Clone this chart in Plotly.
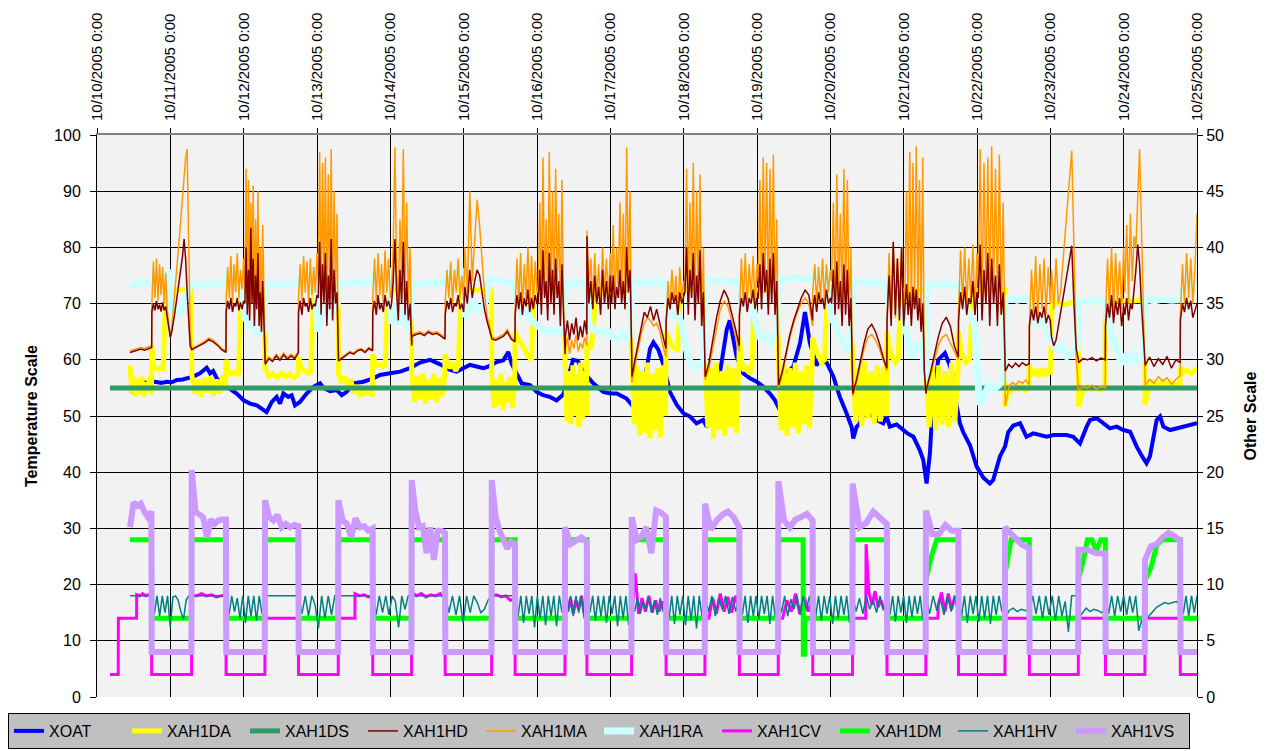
import numpy as np
import pandas as pd
import plotly.graph_objects as go

START = pd.Timestamp("2005-10-10 00:00")
END = pd.Timestamp("2005-10-25 00:00")

DAY_LABELS = ["10/10/2005 0:00", "10/11/2005 0:00", "10/12/2005 0:00", "10/13/2005 0:00",
              "10/14/2005 0:00", "10/15/2005 0:00", "10/16/2005 0:00", "10/17/2005 0:00",
              "10/18/2005 0:00", "10/19/2005 0:00", "10/20/2005 0:00", "10/21/2005 0:00",
              "10/22/2005 0:00", "10/23/2005 0:00", "10/24/2005 0:00", "10/25/2005 0:00"]

# ---- outdoor air temperature: (hour since 10/10 0:00, value) ----
XOAT = [(10.8, 54.5), (12.0, 54.2), (13.5, 55.6), (15.5, 56.0), (17.0, 55.8), (19.0, 56.1), (21.0, 55.9),
        (22.8, 56.1), (24.5, 56.0), (26.1, 56.4), (28.0, 56.5), (29.3, 56.7), (31.5, 57.0), (33.7, 57.6),
        (35.0, 58.3), (35.9, 58.6), (37.0, 57.6), (38.0, 58.0), (39.2, 56.7), (41.4, 55.4), (43.6, 54.8),
        (45.7, 54.0), (48.0, 52.8), (50.1, 52.2), (52.3, 51.9), (54.4, 51.0), (55.5, 50.7), (57.2, 52.5),
        (58.8, 53.4), (59.9, 52.2), (61.0, 54.0), (62.6, 53.4), (63.7, 53.7), (64.8, 51.9), (66.4, 52.5),
        (68.6, 54.0), (70.8, 55.2), (73.0, 55.8), (74.1, 55.0), (76.3, 54.4), (78.5, 54.6), (80.1, 53.7),
        (81.7, 54.3), (83.9, 55.8), (87.2, 56.1), (90.4, 56.7), (92.6, 57.3), (95.9, 57.6), (99.2, 57.9),
        (102.4, 58.5), (105.7, 59.5), (109.0, 60.0), (112.3, 59.2), (115.5, 58.2), (117.7, 57.9),
        (119.9, 58.5), (122.0, 59.1), (124.2, 58.8), (126.4, 58.5), (128.0, 58.8), (130.8, 59.6),
        (133.0, 59.9), (134.6, 61.4), (135.7, 59.3), (137.3, 57.6), (139.0, 55.8), (141.7, 55.5),
        (143.9, 54.3), (146.0, 53.7), (148.2, 53.4), (150.4, 52.8), (152.6, 53.8), (154.0, 56.5),
        (155.8, 60.0), (157.4, 59.8), (159.0, 58.0), (162.4, 55.8), (165.7, 54.3), (168.0, 54.0),
        (170.1, 54.0), (173.3, 53.1), (175.5, 51.7), (177.7, 53.5), (179.9, 58.5), (181.0, 62.0),
        (182.1, 63.1), (183.7, 61.8), (185.3, 59.3), (187.5, 54.3), (189.7, 52.0), (191.9, 50.5),
        (194.1, 49.9), (196.2, 48.7), (198.4, 49.3), (199.5, 48.1), (201.7, 51.0), (202.8, 54.0),
        (203.9, 58.2), (205.0, 62.4), (206.1, 65.4), (207.1, 67.0), (208.2, 63.8), (209.3, 60.6),
        (211.5, 57.6), (213.7, 56.7), (215.9, 56.1), (218.1, 55.2), (220.2, 54.0), (221.9, 52.8),
        (223.5, 51.0), (224.6, 52.5), (225.7, 57.6), (227.9, 58.8), (230.1, 63.0), (231.7, 68.5),
        (233.3, 63.0), (235.5, 59.0), (236.6, 60.0), (238.8, 59.5), (241.0, 57.0), (243.1, 53.4),
        (245.3, 50.5), (247.0, 48.0), (247.5, 46.0), (248.6, 48.1), (249.7, 48.7), (250.8, 51.0),
        (251.9, 51.6), (253.0, 50.5), (255.1, 49.3), (257.3, 48.7), (258.4, 49.9), (259.5, 48.1),
        (261.7, 48.5), (263.9, 47.5), (265.0, 47.0), (267.2, 46.3), (269.3, 43.9), (270.4, 42.2),
        (271.5, 38.0), (272.6, 43.4), (273.2, 49.3), (274.2, 55.0), (275.3, 60.0), (277.5, 61.2),
        (279.1, 59.0), (280.2, 57.0), (281.3, 52.0), (282.4, 48.7), (283.5, 47.1), (285.7, 44.8),
        (287.9, 41.0), (290.1, 39.0), (292.2, 38.0), (293.3, 38.6), (295.5, 42.8), (297.2, 44.6),
        (298.2, 47.1), (299.9, 48.3), (302.1, 48.7), (304.2, 46.3), (306.4, 46.9), (310.8, 46.3),
        (313.0, 46.6), (315.2, 46.6), (317.3, 46.6), (319.5, 46.3), (321.7, 45.1), (323.9, 48.1),
        (325.0, 49.3), (327.2, 49.6), (329.3, 48.7), (331.5, 47.8), (333.7, 48.1), (335.9, 47.5),
        (338.1, 47.2), (340.3, 44.5), (342.4, 42.5), (343.5, 41.6), (344.6, 42.8), (345.7, 45.7),
        (346.8, 49.3), (347.9, 49.9), (349.0, 48.1), (351.2, 47.5), (353.3, 47.8), (355.5, 48.1),
        (357.7, 48.4), (360.0, 48.7)]

# ---- other series: (start hour, end hour, readings evenly spaced in that span) ----
XAH1DA = [
    (10.8, 17.85, [59, 54, 57, 53.5, 56.5, 54, 57, 53.5, 56, 54.5, 57, 53.8]),
    (17.9, 24.0, [62.5, 58.5, 58.5, 58.3, 58.6, 58.4, 72.4, 72.4, 72.4]),
    (24.5, 30.9, [72.4, 72.4]),
    (31.0, 42.1, [57.5, 54, 56.5, 53.5, 56.8, 54.2, 57, 53.6, 56.5, 54, 57.2, 55]),
    (42.2, 48.0, [60, 58, 57.5, 57.8, 57.4, 57.6, 72.4, 72.4]),
    (48.5, 54.9, [72.4, 72.4]),
    (55.0, 65.8, [58.5, 57, 57.5, 56.8, 57.6, 57.0, 57.5, 56.8, 57.4]),
    (65.9, 72.0, [60.5, 58.5, 58.0, 57.6, 57.8, 72.4, 72.4]),
    (72.5, 78.9, [72.4, 72.4]),
    (79.0, 90.1, [57.5, 56, 57, 55.5, 56.5, 54, 55.5, 53.5, 55, 53.8, 54.8, 53.5]),
    (90.2, 96.0, [61, 59.5, 59, 59.2, 58.8, 59.0, 72.4, 72.4]),
    (96.5, 102.9, [72.4, 72.4]),
    (103.0, 113.8, [57.5, 52.5, 57, 53, 57.5, 52.2, 56.5, 53, 57.5, 52.5, 56.8, 53.5, 57]),
    (113.9, 120.0, [61, 59.5, 58.5, 59.5, 58, 59, 72.4, 72.4]),
    (120.5, 129.1, [72.4, 72.4]),
    (129.2, 136.7, [57, 51.5, 56.5, 52, 57.5, 51, 56, 52.5, 57, 51.5, 55.5]),
    (136.8, 144.0, [65, 64, 63, 62, 61.5, 60.5, 60, 72.4, 72.4]),
    (144.5, 153.1, [72.4, 72.4]),
    (153.2, 160.2, [60, 49, 58, 48.5, 59, 50, 57.5, 48, 59.5, 49.5, 58, 50]),
    (160.3, 168.0, [63, 62, 72.0, 72.0, 72.0, 72.0]),
    (168.5, 174.9, [72.0, 72.0]),
    (175.0, 186.1, [61, 48.5, 59, 46.5, 58, 47, 59.5, 46, 57.5, 47.5, 58.5, 46.2, 59, 50]),
    (186.2, 192.0, [65, 63.5, 62.5, 62, 61.8, 72.4, 72.4]),
    (192.5, 198.9, [72.4, 72.4]),
    (199.0, 210.1, [60, 48, 58.5, 46, 59.5, 47.5, 58, 46.5, 59, 48, 58.5, 47, 59.5]),
    (210.2, 216.0, [64, 59.5, 58, 59, 57.5, 58.5, 72.4, 72.4]),
    (216.5, 222.9, [72.4, 72.4]),
    (223.0, 234.1, [60, 47.5, 59, 46.5, 58.5, 48, 59.5, 47, 58, 48.5, 59, 47.8, 60]),
    (234.2, 240.0, [64, 62, 60.5, 59.5, 60, 72.4, 72.4]),
    (240.5, 247.2, [72.4, 72.4]),
    (247.3, 258.4, [59.5, 49, 58.5, 48.2, 59.8, 49.5, 58, 48.5, 59, 49, 58.8, 50]),
    (258.5, 264.0, [65, 62, 60.5, 59.5, 60, 72.4, 72.4]),
    (264.5, 271.2, [72.4, 72.4]),
    (271.3, 281.8, [59.5, 48, 58.5, 47.5, 59, 48.5, 58, 48, 59.5, 49, 58.5]),
    (281.9, 288.0, [65, 61, 59.5, 60, 72.4, 72.4]),
    (288.5, 297.1, [72.4, 72.4]),
    (297.2, 305.0, [51.7, 55.5, 54.5, 55.2, 54.8, 55.4, 54.6, 55.0]),
    (305.1, 312.0, [59, 57.5, 58, 57, 58.5, 57.2, 58, 57.5]),
    (312.6, 321.1, [70.5, 70.0, 69.8, 70.2, 70.0]),
    (321.2, 329.9, [51.7, 54.5, 55.2, 54.8, 55.0, 54.6, 55.1]),
    (330.0, 336.0, [68, 70.5, 70.2, 70.6, 70.4, 70.5]),
    (336.5, 342.9, [70.5, 70.4, 70.6, 70.3]),
    (343.0, 354.4, [52.0, 55.5, 56.0, 55.2, 56.2, 55.5, 56.0, 55.4, 55.8]),
    (354.5, 360.0, [58.5, 57.8, 58.2, 57.5, 58.0, 58.5]),
]

XAH1DS = [(4.25, 360.0, [55, 55])]

XAH1HD = [
    (10.8, 17.9, [61.3, 61.5, 61.7, 61.9, 61.7, 62.0, 62.2]),
    (17.95, 24.0, [68.5, 70.0, 68.8, 70.5, 69.0, 69.8, 68.6, 70.2, 68.8, 69.5, 67.5, 65.5, 64.0]),
    (24.5, 31.0, [65.0, 66.5, 68.5, 70.5, 72.5, 74.5, 76.5, 78.5, 81.5, 78.0, 72.0, 66.0, 62.5, 61.8]),
    (31.05, 42.2, [61.8, 62.2, 62.6, 63.0, 63.6, 63.2, 62.6, 61.8, 61.3]),
    (42.25, 48.0, [68.5, 70.5, 69.0, 71.0, 68.5, 70.0, 69.5, 71.0, 68.8, 70.2, 69.0, 70.5]),
    (48.4, 55.0, [70, 80, 68, 76, 67, 83.5, 70, 78, 66, 75, 69, 79, 66, 72, 65, 74, 68, 59.5]),
    (55.05, 65.9, [59.2, 60.2, 59.7, 60.7, 59.9, 60.9, 60.1, 60.7, 60.2, 61.2]),
    (65.95, 72.0, [68.5, 70.5, 68.0, 71.0, 69.5, 70.0, 68.5, 71.0, 69.0, 70.0, 69.5, 71.5]),
    (72.4, 79.0, [71, 81, 68, 77, 70, 79, 66, 75, 69, 81.5, 67, 76, 70, 72, 61.5]),
    (79.05, 90.2, [59.8, 60.3, 60.8, 61.3, 61.0, 61.6, 61.8, 61.3, 62.0, 61.6]),
    (90.25, 96.0, [68.5, 70.5, 68.0, 71.5, 69.0, 70.0, 68.5, 71.5, 69.5, 70.5, 69.0]),
    (96.4, 103.0, [70, 74, 81.5, 72, 67, 76, 70, 81, 68, 74, 67, 70, 62.5]),
    (103.05, 113.9, [64.2, 64.5, 64.7, 64.3, 64.9, 64.5, 64.7, 64.2, 63.7]),
    (113.95, 120.0, [68, 70.5, 69, 71, 68.5, 70, 69.5, 71.5, 69, 70, 68.5]),
    (120.4, 129.2, [73, 70, 76, 71, 74, 76, 75, 72, 69, 67, 65.5, 64]),
    (129.25, 136.8, [63.7, 63.5, 63.9, 64.2, 65.0, 63.7, 63.2]),
    (136.85, 144.0, [68, 71.5, 69, 72, 68, 71, 69.5, 72.5, 68.5, 71, 69, 71.5, 70]),
    (144.4, 153.2, [70, 76, 68, 79.5, 71, 74, 67, 79, 70, 76, 68, 78, 71, 74, 66, 77, 68, 61]),
    (153.25, 160.3, [64, 67, 63.5, 66.5, 64.5, 67.5, 63.5, 66, 64, 67, 64.5]),
    (160.35, 168.0, [82, 70, 74, 69, 75, 70, 73, 68, 76, 70, 74, 69, 75]),
    (168.4, 175.0, [70, 75, 69, 73, 71, 76, 70, 74, 69, 80, 72, 76, 61]),
    (175.05, 186.2, [57, 60, 63, 66, 68.5, 67.5, 69.5, 67, 69, 66.5, 64, 62]),
    (186.25, 192.0, [67, 71, 69, 72, 70, 71.5, 68, 72, 70, 71]),
    (192.4, 199.0, [72, 80, 68, 76, 71, 79, 67, 75, 70, 79.5, 66, 72, 57.5]),
    (199.05, 210.2, [57, 59.5, 63.5, 67.5, 70.5, 72.4, 71.0, 68.5, 65.5, 62.5]),
    (210.25, 216.0, [68, 71, 69.5, 72, 68.5, 71, 70, 72.5, 69, 71]),
    (216.4, 223.0, [71, 77, 69, 79, 72, 76, 68, 78, 70, 79, 68, 74, 60.5]),
    (223.05, 234.2, [55.5, 58, 61.5, 64.5, 67, 69, 71, 72.4, 71.5, 67]),
    (234.25, 240.0, [69, 71.5, 68.5, 72, 70, 71, 69, 72.5, 70, 71]),
    (240.4, 247.3, [70, 76, 68, 77.5, 69, 74, 66, 77, 68, 76, 66, 71, 55]),
    (247.35, 258.5, [54.0, 56.5, 60, 63, 65.5, 66.3, 65, 63, 60.5, 58.5]),
    (258.55, 264.0, [67, 75, 66, 81, 68, 78, 67, 80, 66]),
    (264.4, 271.3, [70, 73.5, 68, 72, 66, 73, 69, 72.5, 67, 71, 65, 70, 58, 54]),
    (271.35, 281.9, [54.5, 57.5, 61, 64, 66.5, 67.6, 66, 62.5, 60.5]),
    (281.95, 288.0, [67, 72, 69, 73, 68, 71, 70, 74, 68, 72]),
    (288.4, 297.2, [71, 80.5, 67, 76, 70, 79, 66, 78, 70, 75, 66, 77, 68, 72, 61]),
    (297.25, 305.1, [58, 59.2, 58.6, 59.4, 58.8, 59.5, 59.0, 59.3]),
    (305.15, 312.0, [66, 69, 67, 69.5, 66.5, 68.5, 67.5, 69.5, 66.5, 68, 67]),
    (312.4, 321.2, [64, 62.5, 63.5, 66, 68, 71, 73, 75.5, 78, 80.3, 70, 62, 60]),
    (321.25, 330.0, [59.5, 60.2, 60.0, 60.4, 59.8, 60.3, 60.0]),
    (330.05, 336.0, [66, 70, 67.5, 71.5, 66.5, 70.5, 68, 71, 66, 69.5]),
    (336.4, 343.0, [68, 71, 67, 70, 69, 72, 76, 80.5, 77, 70, 64, 60]),
    (343.05, 354.5, [59, 60.5, 58.8, 60.2, 59.2, 60.6, 58.5, 60.0, 59.5]),
    (354.55, 360.0, [67, 70, 68.5, 71, 69, 70.5, 67.5, 69, 70]),
]

XAH1MA = [
    (10.8, 17.9, [61.6, 61.8, 62.0, 62.2, 62.0, 62.3, 62.5]),
    (17.95, 24.0, [70.0, 77.5, 71.0, 78.0, 70.5, 77.0, 71.5, 76.5, 70.0, 75.5, 69.0, 66.0, 64.0]),
    (24.5, 31.0, [66.0, 69.0, 72.0, 75.0, 78.5, 82.0, 85.5, 89.0, 92.5, 96.0, 97.5, 80.0, 65.0, 62.0]),
    (31.05, 42.2, [62.0, 62.4, 62.8, 63.3, 63.9, 63.5, 62.8, 62.0, 61.6]),
    (42.25, 48.0, [70.5, 76.5, 71.0, 78.5, 70.0, 77.0, 72.0, 79.0, 71.0, 76.0, 72.5, 78.0]),
    (48.4, 55.0, [72, 94, 70, 92, 68, 88, 72, 91, 66, 85, 70, 90, 67, 80, 65, 84, 70, 60]),
    (55.05, 65.9, [59.5, 60.5, 60.0, 61.0, 60.2, 61.2, 60.4, 61.0, 60.5, 61.5]),
    (65.95, 72.0, [71.0, 77.0, 70.5, 78.5, 72.0, 77.5, 70.0, 78.0, 71.5, 76.5, 72.0, 79.0]),
    (72.4, 79.0, [74, 97, 70, 95, 72, 96, 68, 93, 71, 97.5, 69, 90, 72, 86, 62]),
    (79.05, 90.2, [60.0, 60.5, 61.0, 61.5, 61.2, 61.8, 62.0, 61.5, 62.2, 61.8]),
    (90.25, 96.0, [71, 78, 70.5, 79, 71.5, 77, 70, 79.5, 72, 78, 71]),
    (96.4, 103.0, [72, 80, 97.8, 76, 70, 85, 74, 97.5, 72, 88, 70, 80, 63]),
    (103.05, 113.9, [64.5, 64.8, 65.0, 64.6, 65.2, 64.8, 65.0, 64.5, 64.0]),
    (113.95, 120.0, [70, 76, 71, 77.5, 70, 76, 72, 78, 71, 75, 70.5]),
    (120.4, 129.2, [80, 72, 90, 74, 82, 88.5, 84, 78, 72, 68, 66, 64.5]),
    (129.25, 136.8, [64.0, 63.8, 64.2, 64.5, 65.4, 64.0, 63.5]),
    (136.85, 144.0, [69, 78, 70, 79, 68.5, 77, 71, 80, 69, 78.5, 70, 77.5, 72]),
    (144.4, 153.2, [72, 88, 70, 96, 73, 85, 69, 97, 72, 90, 70, 94, 74, 86, 68, 92, 70, 62]),
    (153.25, 160.3, [62, 64, 61, 63.5, 62, 64.5, 61.5, 63, 62, 64, 62.5]),
    (160.35, 168.0, [83, 72, 78, 70, 79, 71, 77, 69, 80, 72, 78, 70.5, 79]),
    (168.4, 175.0, [72, 84, 70, 80, 73, 88, 71, 86, 70, 97.8, 74, 90, 60]),
    (175.05, 186.2, [56, 59, 62, 64.5, 66.5, 67.5, 67.0, 66.0, 66.5, 65.0, 62.5, 60.5]),
    (186.25, 192.0, [66, 74, 69, 76, 70, 75, 68, 76.5, 71, 74]),
    (192.4, 199.0, [72, 94, 70, 88, 73, 95, 68, 90, 71, 93, 66, 80, 57]),
    (199.05, 210.2, [56.5, 58.5, 62.0, 66.0, 69.0, 70.5, 69.5, 67.0, 64.0, 61.5]),
    (210.25, 216.0, [68, 78, 70, 79, 69.5, 77, 71, 78.5, 70, 77]),
    (216.4, 223.0, [74, 92, 71, 96, 73, 95, 70, 94, 72, 96.5, 69, 85, 60]),
    (223.05, 234.2, [55, 57.5, 61, 64, 66.5, 68.5, 70, 71, 70, 66]),
    (234.25, 240.0, [72, 77, 70, 76.5, 71, 78, 70.5, 77, 72, 76]),
    (240.4, 247.3, [74, 88, 70, 93, 72, 86, 69, 94, 71, 92, 68, 80, 56]),
    (247.35, 258.5, [53.5, 56, 59, 62, 64, 64.5, 63.5, 62, 60, 58]),
    (258.55, 264.0, [66, 79, 68, 80, 67.5, 78, 69, 80, 68]),
    (264.4, 271.3, [72, 90, 70, 97, 68, 95, 71, 98, 69, 92, 66, 96, 58, 54]),
    (271.35, 281.9, [54.5, 57, 60, 62.5, 64, 64.5, 63, 61.5, 60]),
    (281.95, 288.0, [68, 79.5, 70, 80, 69, 78, 71, 80.5, 68, 79]),
    (288.4, 297.2, [73, 97.5, 70, 95, 72, 96, 69, 98, 72, 94, 70, 96.5, 68, 88, 60]),
    (297.25, 305.1, [51.8, 55.0, 56.0, 55.5, 56.2, 55.8, 56.4, 55.6]),
    (305.15, 312.0, [66, 76, 68, 78.5, 67, 77, 69, 78, 68, 76.5, 70]),
    (312.4, 321.2, [76, 69, 78, 70, 72, 77, 82, 87, 92, 97.2, 80, 60, 55]),
    (321.25, 330.0, [54.5, 55.2, 55.0, 55.5, 54.8, 55.3, 55.0]),
    (330.05, 336.0, [67, 78, 69, 80, 68, 79, 70, 77.5, 69, 80]),
    (336.4, 343.0, [72, 84, 70, 86, 74, 82, 80, 88, 97.5, 84, 70, 56]),
    (343.05, 354.5, [55.5, 56.5, 55.8, 57.0, 56.2, 56.8, 55.6, 56.5, 57.2]),
    (354.55, 360.0, [68, 77, 70, 79, 71, 78, 70, 76, 86]),
]

XAH1RA = [
    (10.8, 17.9, [73.5, 73.2, 73.8, 73.4, 73.6, 73.5]),
    (18.3, 23.6, [74.5, 75.3, 75.5, 75.2, 75.4]),
    (24.0, 30.4, [65.3, 67.6, 70.0, 68.2, 70.0, 71.8, 73.0]),
    (31.0, 42.2, [73.4, 73.6, 73.2, 73.5, 73.7, 73.4, 73.6]),
    (43.0, 47.6, [75.5, 75.8, 75.4, 75.6]),
    (48.2, 54.6, [67.6, 66.4, 65.3, 64.7, 65.3]),
    (55.0, 65.9, [73.4, 73.6, 73.3, 73.6, 73.5]),
    (66.6, 71.6, [74.8, 75.5, 75.8, 75.6]),
    (72.2, 78.6, [65.0, 69.5, 67.6, 68.8, 70.0]),
    (79.0, 90.2, [73.8, 73.6, 73.9, 73.5, 73.7]),
    (90.9, 95.6, [75.5, 76.0, 75.8, 75.8]),
    (96.2, 102.6, [66.4, 70.0, 66.4, 69.4, 65.3, 68.0]),
    (103.0, 113.9, [73.6, 73.4, 73.7, 73.5, 73.6]),
    (114.6, 119.9, [75.3, 75.8, 76.0, 75.7]),
    (120.6, 128.6, [67.6, 71.2, 68.8, 69.5, 74.5]),
    (129.2, 136.8, [74.5, 74.0, 73.8, 73.6]),
    (137.6, 152.8, [70.0, 68.2, 68.8, 67.0, 66.4, 65.5, 65.0, 65.3, 64.7, 65.3, 65.0]),
    (153.2, 160.3, [73.6, 73.4, 73.7, 73.5]),
    (161.0, 174.6, [66.4, 65.3, 65.0, 64.7, 65.3, 64.1, 63.5, 64.7, 63.8, 64.4]),
    (175.0, 186.2, [73.9, 73.7, 73.6, 73.9, 73.5]),
    (187.0, 198.6, [68.8, 67.6, 68.2, 66.4, 62.0, 59.3, 58.6, 59.0, 59.8]),
    (199.0, 210.2, [74.5, 73.9, 74.2, 73.9, 74.0]),
    (211.0, 222.6, [70.0, 69.4, 70.2, 69.0, 65.3, 63.5, 64.7, 63.2, 64.1, 64.7]),
    (223.0, 234.2, [74.5, 74.2, 74.6, 74.3, 74.5]),
    (234.8, 246.9, [75.5, 75.8, 75.3, 75.6, 67.6, 66.4, 64.5, 62.5, 61.4, 63.0]),
    (247.3, 258.5, [73.7, 73.9, 73.6, 73.8, 73.6]),
    (259.1, 271.3, [70.2, 70.0, 69.8, 68.0, 63.7, 60.5, 62.5, 63.0, 56.4]),
    (271.35, 281.9, [73.4, 73.2, 73.5, 73.3, 73.4]),
    (282.4, 296.8, [71.5, 70.0, 68.5, 66.5, 52.0, 53.5, 55.8, 54.8, 55.5, 56.5]),
    (297.2, 305.1, [70.8, 71.0, 70.6, 70.9, 70.7]),
    (305.7, 320.8, [69.4, 66.0, 68.0, 65.0, 63.0, 61.8, 62.5, 60.6, 61.5, 62.0]),
    (321.2, 330.0, [70.5, 70.3, 70.6, 70.4]),
    (330.6, 342.6, [67.6, 64.0, 62.6, 59.3, 60.6, 59.5, 61.0, 59.8, 60.5]),
    (343.0, 354.5, [70.9, 70.5, 70.8, 70.6, 70.7]),
    (355.1, 360.0, [72.5, 73.2, 73.6, 73.0]),
]

XAH1CV = [
    (4.25, 6.95, [2, 2]), (7.0, 12.95, [7, 7]),
    (13.0, 17.85, [9.1, 9.0, 9.2, 9.0, 9.1, 8.9]),
    (17.9, 30.95, [2, 2]),
    (31.0, 42.2, [9.1, 9.0, 9.2, 9.0, 9.1, 8.9, 9.0, 9.1]),
    (42.25, 54.95, [2, 2]), (55.0, 65.9, [7, 7]), (65.95, 78.95, [2, 2]),
    (79.0, 84.4, [7, 7]), (84.45, 90.2, [9.2, 9.0, 9.1, 8.9, 9.0]),
    (90.25, 102.95, [2, 2]),
    (103.0, 113.9, [9.3, 9.0, 9.2, 8.9, 9.1, 9.0, 9.2, 8.8]),
    (113.95, 129.15, [2, 2]),
    (129.2, 136.8, [9.0, 9.1, 8.9, 9.0, 8.6, 8.7]),
    (136.85, 153.15, [2, 2]),
    (153.2, 160.3, [9.0, 7.6, 8.8, 7.4, 8.6, 7.8, 9.0, 7.5, 8.2]),
    (160.35, 174.95, [2, 2]),
    (175.0, 186.2, [7.2, 11.0, 7.4, 8.8, 7.6, 9.0, 7.5, 8.6, 7.6, 8.5, 7.7]),
    (186.25, 198.95, [2, 2]),
    (199.0, 210.2, [7.0, 7.0, 8.8, 7.4, 9.2, 7.6, 8.9, 7.5, 9.0, 7.8]),
    (210.25, 222.95, [2, 2]),
    (223.0, 234.2, [7.0, 7.0, 8.6, 7.6, 9.2, 7.4, 9.0, 7.6, 8.7]),
    (234.25, 247.25, [2, 2]),
    (247.3, 251.6, [7, 7]),
    (251.7, 258.5, [13.6, 9.2, 8.2, 9.4, 8.0, 8.6, 7.8, 8.5]),
    (258.55, 271.25, [2, 2]),
    (271.3, 275.2, [7, 7]),
    (275.3, 281.9, [8.2, 9.3, 7.6, 9.2, 7.8, 9.0, 7.6]),
    (281.95, 297.15, [2, 2]), (297.2, 305.1, [7, 7]), (305.15, 321.15, [2, 2]),
    (321.2, 330.0, [7, 7]), (330.05, 342.95, [2, 2]), (343.0, 354.5, [7, 7]),
    (354.55, 360.0, [2, 2]),
]

XAH1DM = [
    (10.8, 17.85, [14, 14]), (17.9, 30.95, [7, 7]), (31.0, 42.2, [14, 14]), (42.25, 54.95, [7, 7]),
    (55.0, 65.9, [14, 14]), (65.95, 78.95, [7, 7]), (79.0, 90.2, [14, 14]), (90.25, 102.95, [7, 7]),
    (103.0, 113.9, [14, 14]), (113.95, 129.15, [7, 7]), (129.2, 136.8, [14, 14]),
    (136.85, 153.15, [7, 7]), (153.2, 160.3, [14, 14]), (160.35, 174.95, [7, 7]),
    (175.0, 186.2, [14, 14]), (186.25, 198.95, [7, 7]), (199.0, 210.2, [14, 14]),
    (210.25, 222.95, [7, 7]), (223.0, 231.1, [14, 14]), (231.15, 231.6, [3.8, 3.8]),
    (231.65, 247.25, [7, 7]), (247.3, 258.5, [14, 14]), (258.55, 271.25, [7, 7]),
    (271.3, 281.9, [10.4, 12.5, 14, 14, 14, 14, 14]), (281.95, 297.15, [7, 7]),
    (297.2, 305.1, [11.0, 14, 14, 14, 14]), (305.15, 321.15, [7, 7]),
    (321.2, 330.0, [10.5, 12.0, 14, 14, 13.0, 14, 14]), (330.05, 342.95, [7, 7]),
    (343.0, 354.5, [10.4, 11.5, 13.5, 14, 14, 14, 14]), (354.55, 360.0, [7, 7]),
]

XAH1HV = [
    (10.8, 17.8, [9, 9]),
    (17.9, 30.9, [9, 7.4, 9, 7.2, 9, 7.5, 9, 6.2, 8.9, 9, 8.6, 7.6, 6.9, 8.6, 9, 9]),
    (31.0, 42.2, [9, 9]),
    (42.3, 54.9, [9, 7.3, 9, 7.6, 8.8, 7.0, 9, 6.6, 9, 7.2, 9, 6.8, 9, 7.4, 9]),
    (55.0, 65.9, [9, 9]),
    (66.0, 78.9, [9, 7.4, 9, 7.2, 9, 8.2, 6.1, 9, 7.0, 9, 7.3, 9, 9]),
    (79.0, 90.2, [9, 9]),
    (90.3, 102.9, [9, 7.3, 9, 7.5, 9, 7.3, 9, 8.5, 6.2, 9, 7.8, 9, 9]),
    (103.0, 113.9, [9, 9]),
    (114.0, 129.1, [9, 7.5, 9, 7.3, 9, 6.6, 9, 7.5, 9, 8.4, 7.5, 7.8, 8.6, 9]),
    (129.2, 136.8, [9, 9]),
    (136.9, 153.1, [9, 7.2, 9, 6.6, 9, 7.4, 9, 6.2, 9, 7.0, 9, 6.4, 9, 7.2, 9, 6.3, 9, 7.5, 9]),
    (153.2, 160.3, [9, 7.6, 9, 7.2, 9, 7.5, 9, 7.0, 9]),
    (160.4, 174.9, [9, 7.5, 9, 6.8, 9, 7.2, 9, 6.6, 9, 7.4, 9, 6.3, 9, 7.0, 9, 6.4, 9]),
    (175.0, 186.2, [8.6, 7.6, 8.8, 7.4, 8.5, 7.8, 8.9, 7.5, 8.6, 7.3, 8.8, 7.6, 8.7]),
    (186.3, 198.9, [9, 7.0, 9, 6.5, 9, 7.3, 9, 6.4, 9, 6.8, 9, 6.1, 9, 7.2, 9]),
    (199.0, 210.2, [9, 7.6, 9, 7.2, 8.8, 7.8, 9, 7.4, 8.9, 7.6, 9]),
    (210.3, 222.9, [9, 7.3, 9, 6.6, 9, 7.2, 9, 6.9, 9, 7.4, 9, 6.5, 9, 7.1, 9]),
    (223.0, 234.2, [9, 7.5, 9, 7.2, 8.7, 7.8, 9, 7.3, 9, 7.7, 9, 7.0]),
    (234.3, 247.2, [9, 7.2, 9, 6.8, 9, 7.4, 9, 6.5, 9, 7.0, 9, 7.3, 9, 6.6, 9]),
    (247.3, 258.5, [9, 7.6, 8.8, 7.4, 9, 7.8, 8.6, 7.5, 9, 7.7, 8.8]),
    (258.6, 271.2, [9, 7.3, 9, 6.7, 9, 7.5, 9, 6.6, 9, 7.1, 9, 7.4, 9, 6.8, 9]),
    (271.3, 281.9, [9, 7.4, 9, 7.7, 8.7, 7.3, 9, 7.6, 9, 7.2]),
    (282.0, 297.1, [9, 7.2, 9, 6.6, 9, 7.4, 9, 6.7, 9, 7.0, 9, 6.5, 9, 7.3, 9, 7.6, 9]),
    (297.2, 305.1, [7.0, 7.7, 7.9, 7.6, 7.8, 7.7, 7.5]),
    (305.2, 321.1, [7.6, 9, 7.4, 9, 7.0, 9, 7.3, 9, 6.8, 9, 7.2, 8.5, 5.8, 9, 9, 9]),
    (321.2, 330.0, [7.0, 7.4, 7.9, 7.6, 7.8, 7.7, 7.5, 7.8]),
    (330.1, 342.9, [9, 7.4, 9, 7.2, 9, 7.6, 9, 7.3, 9, 7.5, 9, 5.9, 6.8, 7.0]),
    (343.0, 354.5, [6.8, 7.2, 7.6, 8.0, 8.2, 8.4, 8.3, 8.4, 8.5, 8.2]),
    (354.6, 360.0, [9, 7.4, 9, 7.2, 9, 7.5, 9]),
]

XAH1VS = [
    (10.8, 17.8, [15.1, 17.3, 17.0, 17.2, 16.5, 16.0, 16.5]),
    (17.9, 30.9, [4, 4]),
    (31.0, 42.2, [20.2, 16.5, 16.2, 16.0, 14.2, 15.8, 15.4, 15.7, 15.8, 15.8]),
    (42.3, 54.9, [4, 4]),
    (55.0, 65.9, [17.5, 16.0, 15.7, 16.2, 15.1, 15.4, 15.1, 15.3, 15.2]),
    (66.0, 78.9, [4, 4]),
    (79.0, 90.2, [17.5, 15.7, 15.4, 14.2, 15.9, 15.1, 15.2, 14.8, 15.0]),
    (90.3, 102.9, [4, 4]),
    (103.0, 113.9, [19.3, 16.5, 15.1, 15.2, 12.8, 15.1, 12.2, 14.8, 14.8, 14.6]),
    (114.0, 129.1, [4, 4]),
    (129.2, 136.8, [19.3, 16.0, 14.8, 13.9, 13.2, 13.8, 13.6]),
    (136.9, 153.1, [4, 4]),
    (153.2, 160.3, [15.1, 13.6, 13.9, 14.2, 13.8]),
    (160.4, 174.9, [4, 4]),
    (175.0, 186.2, [16.0, 14.0, 14.3, 15.1, 12.8, 16.6, 16.4, 16.0]),
    (186.3, 198.9, [4, 4]),
    (199.0, 210.2, [17.2, 14.9, 15.7, 16.2, 16.5, 16.0, 15.1]),
    (210.3, 222.9, [4, 4]),
    (223.0, 234.2, [19.2, 15.7, 15.1, 15.8, 16.0, 16.3, 15.7]),
    (234.3, 247.2, [4, 4]),
    (247.3, 258.5, [19.0, 15.1, 15.5, 16.5, 16.0, 15.4]),
    (258.6, 271.2, [4, 4]),
    (271.3, 281.9, [16.6, 14.5, 14.5, 15.3, 14.8, 14.8]),
    (282.0, 297.1, [4, 4]),
    (297.2, 305.1, [15.1, 14.3, 13.6, 13.2]),
    (305.2, 321.1, [4, 4]),
    (321.2, 330.0, [13.1, 13.1, 12.8, 12.8]),
    (330.1, 342.9, [4, 4]),
    (343.0, 354.5, [12.2, 13.4, 13.6, 14.2, 14.6, 14.3, 13.9]),
    (354.6, 360.0, [4, 4]),
]


def from_segments(segs):
    hours, vals = [], []
    for a, b, v in segs:
        hours.extend(np.linspace(a, b, len(v)))
        vals.extend(v)
    return START + pd.to_timedelta(hours, unit="h"), vals


def from_pairs(pairs):
    hours = [p[0] for p in pairs]
    return START + pd.to_timedelta(hours, unit="h"), [p[1] for p in pairs]


# (name, data, colour, width, axis, legend rank) in drawing order
SERIES = [
    ("XOAT", from_pairs(XOAT), "#0000ff", 4, "y", 1),
    ("XAH1DA", from_segments(XAH1DA), "#ffff00", 5, "y", 2),
    ("XAH1DS", from_segments(XAH1DS), "#339966", 5, "y", 3),
    ("XAH1RA", from_segments(XAH1RA), "#ccffff", 7, "y", 6),
    ("XAH1MA", from_segments(XAH1MA), "#ff9900", 1.5, "y", 5),
    ("XAH1HD", from_segments(XAH1HD), "#800000", 1.5, "y", 4),
    ("XAH1CV", from_segments(XAH1CV), "#ff00ff", 3, "y2", 7),
    ("XAH1DM", from_segments(XAH1DM), "#00ff00", 5, "y2", 8),
    ("XAH1HV", from_segments(XAH1HV), "#008080", 1.5, "y2", 9),
    ("XAH1VS", from_segments(XAH1VS), "#cc99ff", 6, "y2", 10),
]

fig = go.Figure()
for name, (xs, ys), color, width, axis, rank in SERIES:
    fig.add_trace(go.Scatter(x=xs, y=ys, mode="lines", name=name, yaxis=axis,
                             line=dict(color=color, width=width), legendrank=rank))

day_ticks = pd.date_range(START, END, freq="D")
eight_hour_ticks = pd.date_range(START, END, freq="8h")
FONT = "Liberation Sans, Arial, sans-serif"

# the page body adds an 8px offset, so the figure is 8px smaller than the window
fig.update_layout(
    width=1267, height=743,
    margin=dict(l=89, r=78, t=127, b=54, autoexpand=False),
    paper_bgcolor="white", plot_bgcolor="#f2f2f2",
    font=dict(family=FONT, size=15, color="black"),
    legend=dict(orientation="h", x=-0.0809, xanchor="left", y=-0.0925, yanchor="bottom",
                bgcolor="#c0c0c0", bordercolor="black", borderwidth=1,
                font=dict(size=16, family=FONT), entrywidth=73, entrywidthmode="pixels"),
    xaxis=dict(type="date", range=[START, END], side="top", tickvals=day_ticks, ticktext=DAY_LABELS,
               tickangle=-90, ticks="outside", ticklen=5, tickcolor="black", ticklabelstandoff=4,
               showgrid=True, gridcolor="#000000", gridwidth=1,
               showline=True, linecolor="#808080", linewidth=2, tickfont=dict(size=15), zeroline=False),
    xaxis2=dict(type="date", range=[START, END], overlaying="x", anchor="y", side="bottom",
                tickvals=eight_hour_ticks, ticks="outside", ticklen=5, tickcolor="black",
                showticklabels=False, showgrid=False, showline=True, linecolor="black", linewidth=1),
    yaxis=dict(range=[0, 100], dtick=10, ticks="outside", ticklen=6, tickcolor="black",
               ticklabelstandoff=6,
               showline=True, linecolor="black", linewidth=1, showgrid=True, gridcolor="#000000",
               gridwidth=1, zeroline=False, tickfont=dict(size=16),
               title=dict(text="<b>Temperature Scale</b>", standoff=12, font=dict(size=16))),
    yaxis2=dict(range=[0, 50], dtick=5, overlaying="y", side="right", ticks="outside", ticklen=5,
                tickcolor="black", showline=True, linecolor="black", linewidth=1, showgrid=False,
                zeroline=False, tickfont=dict(size=16),
                title=dict(text="<b>Other Scale</b>", standoff=21, font=dict(size=16))),
)

fig.write_html("out.html")
